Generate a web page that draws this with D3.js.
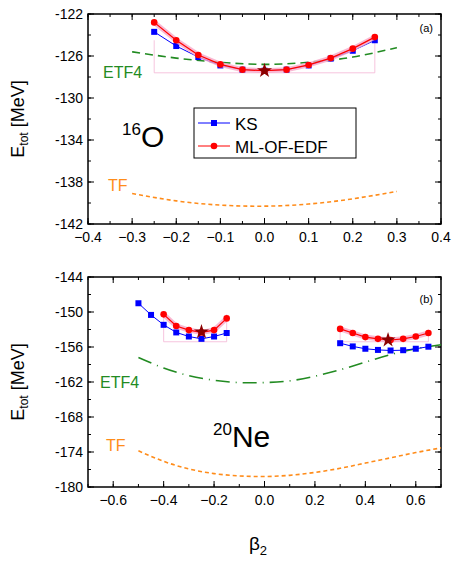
<!DOCTYPE html><html><head><meta charset="utf-8"><script src="https://cdn.jsdelivr.net/npm/d3@7"></script>
<style>body{margin:0;background:#fff}text{font-family:Arial,"Liberation Sans",sans-serif}</style></head><body><svg id="c" width="458" height="575"></svg>
<script>
const betaO=[-0.25,-0.2,-0.15,-0.1,-0.05,0,0.05,0.1,0.15,0.2,0.25];
const ksO=[-123.7,-125.05,-126.1,-126.9,-127.3,-127.4,-127.3,-126.9,-126.25,-125.5,-124.5];
const mlO=[-122.8,-124.5,-125.9,-126.8,-127.3,-127.4,-127.3,-126.85,-126.2,-125.3,-124.2];
const etfO=[[-0.3,-125.6],[-0.2,-126.2],[-0.1,-126.6],[0,-126.8],[0.1,-126.6],[0.2,-126.1],[0.3,-125.2]];
const tfO=[[-0.3,-139.1],[-0.2,-139.8],[-0.1,-140.2],[0,-140.3],[0.1,-140.1],[0.2,-139.6],[0.3,-138.9]];
const betaNeL=[-0.5,-0.45,-0.4,-0.35,-0.3,-0.25,-0.2,-0.15];
const ksNeL=[-148.5,-150.5,-152.2,-153.5,-154.2,-154.6,-154.2,-153.6];
const betaNeLml=[-0.4,-0.35,-0.3,-0.25,-0.2,-0.15];
const mlNeL=[-150.4,-152.4,-153.1,-153.5,-153.1,-151.1];
const betaNeR=[0.3,0.35,0.4,0.45,0.5,0.55,0.6,0.65];
const ksNeR=[-155.35,-155.9,-156.3,-156.5,-156.6,-156.55,-156.3,-155.95];
const mlNeR=[-152.9,-153.6,-154.3,-154.6,-154.8,-154.6,-154.2,-153.6];
const etfNe=[[-0.5,-157.8],[-0.4,-159.6],[-0.3,-160.9],[-0.2,-161.7],[-0.1,-162.1],[0,-162.1],[0.1,-161.8],[0.2,-161.0],[0.3,-159.9],[0.4,-158.6],[0.5,-157.3],[0.6,-156.3],[0.7,-155.6]];
const tfNe=[[-0.5,-173.8],[-0.4,-175.6],[-0.3,-176.9],[-0.2,-177.7],[-0.1,-178.1],[0,-178.2],[0.1,-178.0],[0.2,-177.5],[0.3,-176.8],[0.4,-175.9],[0.5,-175.0],[0.6,-174.1],[0.7,-173.3]];
const svg=d3.select("#c");
const red="#ff0000",blue="#0000ff",green="#228b22",orange="#ff8c1a";
function panel(o){
 const x=d3.scaleLinear().domain(o.xd).range([88,441]);
 const y=d3.scaleLinear().domain(o.yd).range([o.b,o.t]);
 const g=svg.append("g");
 const xt=d3.range(o.xd0,o.xd1+1e-9,o.xs), xm=d3.range(o.xd0-o.xs/2,o.xd1+o.xs,o.xs/2).filter(v=>v>=o.xd[0]-1e-9&&v<=o.xd[1]+1e-9);
 const yt=d3.range(o.yd[0],o.yd[1]+1e-9,o.ys), ym=d3.range(o.yd[0],o.yd[1]+1e-9,o.ys/2);
 xm.forEach(v=>{g.append("line").attr("x1",x(v)).attr("x2",x(v)).attr("y1",o.b).attr("y2",o.b-3).attr("stroke","#000");g.append("line").attr("x1",x(v)).attr("x2",x(v)).attr("y1",o.t).attr("y2",o.t+3).attr("stroke","#000");});
 xt.forEach(v=>{g.append("line").attr("x1",x(v)).attr("x2",x(v)).attr("y1",o.b).attr("y2",o.b-6).attr("stroke","#000");g.append("line").attr("x1",x(v)).attr("x2",x(v)).attr("y1",o.t).attr("y2",o.t+6).attr("stroke","#000");
  g.append("text").attr("x",x(v)).attr("y",o.b+18).attr("text-anchor","middle").attr("font-size",14).text(d3.format(".1f")(v));});
 ym.forEach(v=>{g.append("line").attr("x1",88).attr("x2",91).attr("y1",y(v)).attr("y2",y(v)).attr("stroke","#000");g.append("line").attr("x1",441).attr("x2",438).attr("y1",y(v)).attr("y2",y(v)).attr("stroke","#000");});
 yt.forEach(v=>{g.append("line").attr("x1",88).attr("x2",94).attr("y1",y(v)).attr("y2",y(v)).attr("stroke","#000");g.append("line").attr("x1",441).attr("x2",435).attr("y1",y(v)).attr("y2",y(v)).attr("stroke","#000");
  g.append("text").attr("x",83).attr("y",y(v)+5).attr("text-anchor","end").attr("font-size",14).text(v);});
 g.append("rect").attr("x",88).attr("y",o.t).attr("width",353).attr("height",o.b-o.t).attr("fill","none").attr("stroke","#000").attr("stroke-width",1.5);
 const ln=d3.line().x(d=>x(d[0])).y(d=>y(d[1])).curve(d3.curveNatural);
 g.append("path").attr("d",ln(o.etf)).attr("fill","none").attr("stroke",green).attr("stroke-width",1.6).attr("stroke-dasharray",o.etfDash);
 g.append("path").attr("d",ln(o.tf)).attr("fill","none").attr("stroke",orange).attr("stroke-width",1.6).attr("stroke-dasharray","4,3");
 const l2=d3.line().x(d=>x(d[0])).y(d=>y(d[1]));
 o.boxes.forEach(bx=>{g.append("path").attr("d",`M${x(bx[0])},${y(bx[2])}V${y(bx[3])}H${x(bx[1])}V${y(bx[2])}`).attr("fill","none").attr("stroke","#f4b6d6").attr("stroke-width",0.8);});
 o.ks.forEach(s=>{const d=s[0].map((b,i)=>[b,s[1][i]]);
  g.append("path").attr("d",l2(d)).attr("fill","none").attr("stroke",blue).attr("stroke-width",1);
  d.forEach(p=>g.append("rect").attr("x",x(p[0])-3).attr("y",y(p[1])-3).attr("width",6).attr("height",6).attr("fill",blue));});
 o.ml.forEach(s=>{const d=s[0].map((b,i)=>[b,s[1][i]]);
  g.append("path").attr("d",l2(d)).attr("fill","none").attr("stroke","#f7a8c8").attr("stroke-width",5).attr("opacity",0.8);
  g.append("path").attr("d",l2(d)).attr("fill","none").attr("stroke",red).attr("stroke-width",1.2);
  d.forEach(p=>g.append("circle").attr("cx",x(p[0])).attr("cy",y(p[1])).attr("r",3.3).attr("fill",red));});
 o.stars.forEach(s=>g.append("path").attr("d",d3.symbol(d3.symbolStar,70)()).attr("transform",`translate(${x(s[0])},${y(s[1])})`).attr("fill","#8b0000"));
 return {x,y,g};
}
panel({xd:[-0.4,0.4],xd0:-0.4,xd1:0.4,xs:0.1,yd:[-142,-122],ys:4,t:14,b:224,etf:etfO,tf:tfO,etfDash:"8,5",
 boxes:[[-0.25,0.25,-124.5,-127.6]],ks:[[betaO,ksO]],ml:[[betaO,mlO]],stars:[[0,-127.4]]});
panel({xd:[-0.7,0.7],xd0:-0.6,xd1:0.6,xs:0.2,yd:[-180,-144],ys:6,t:277,b:487,etf:etfNe,tf:tfNe,etfDash:"14,6,1,6",
 boxes:[[-0.4,-0.15,-150.4,-155.1],[0.3,0.65,-153,-155.1]],ks:[[betaNeL,ksNeL],[betaNeR,ksNeR]],ml:[[betaNeLml,mlNeL],[betaNeR,mlNeR]],stars:[[-0.25,-153.4],[0.49,-154.8]]});
function t(x,y,s,c,fs,a){return svg.append("text").attr("x",x).attr("y",y).attr("font-size",fs).attr("fill",c).attr("text-anchor",a||"start").text(s);}
t(103,78,"ETF4",green,16);t(108,191,"TF",orange,16);
t(100,388,"ETF4",green,16);t(106,451,"TF",orange,16);
t(433,32,"(a)","#000",11,"end");t(433,303,"(b)","#000",11,"end");
let tx=svg.append("text").attr("x",122).attr("y",147).attr("font-size",30);tx.append("tspan").attr("font-size",17).attr("dy",-12).text("16");tx.append("tspan").attr("dy",12).text("O");
tx=svg.append("text").attr("x",213).attr("y",447).attr("font-size",30);tx.append("tspan").attr("font-size",17).attr("dy",-12).text("20");tx.append("tspan").attr("dy",12).text("Ne");
[[14,119],[14,382]].forEach(p=>{const e=svg.append("text").attr("transform",`translate(${p[0]+10},${p[1]}) rotate(-90)`).attr("text-anchor","middle").attr("font-size",18);
 e.append("tspan").text("E");e.append("tspan").attr("font-size",12).attr("dy",4).text("tot");e.append("tspan").attr("dy",-4).text(" [MeV]");});
let xl=svg.append("text").attr("x",258).attr("y",550).attr("text-anchor","middle").attr("font-size",19);xl.append("tspan").text("β");xl.append("tspan").attr("font-size",13).attr("dy",5).text("2");
const lg=svg.append("g");lg.append("rect").attr("x",194).attr("y",108).attr("width",162).attr("height",50).attr("fill","#fff").attr("stroke","#000");
lg.append("line").attr("x1",198).attr("x2",230).attr("y1",123).attr("y2",123).attr("stroke",blue);lg.append("rect").attr("x",211).attr("y",120).attr("width",6).attr("height",6).attr("fill",blue);
lg.append("line").attr("x1",198).attr("x2",230).attr("y1",146).attr("y2",146).attr("stroke",red);lg.append("circle").attr("cx",214).attr("cy",146).attr("r",3.3).attr("fill",red);
t(235,130,"KS","#000",17);t(235,153,"ML-OF-EDF","#000",17);
</script></body></html>
